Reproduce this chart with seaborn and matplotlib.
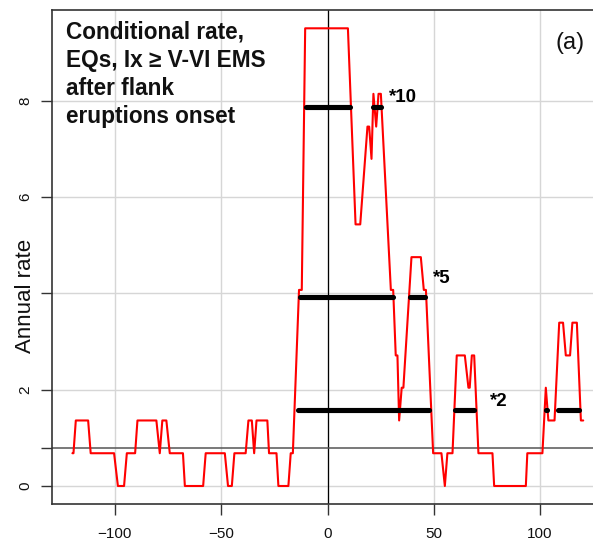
import matplotlib
matplotlib.use("Agg")
import matplotlib.pyplot as plt
import pandas as pd
import seaborn as sns

# Daily conditional rate curve (vertices of the step-like polyline)
days = [-120, -119.5, -118.4, -112.6, -111.4, -100.4, -98.6, -95.7, -94.4, -90.5,
        -89.4, -80.5, -78.9, -77.7, -75.8, -74.2, -68.0, -67.1, -58.5, -57.3,
        -48.3, -46.8, -45.0, -43.8, -38.5, -37.2, -35.6, -34.5, -33.4, -28.3,
        -27.5, -24.0, -23.1, -18.4, -17.3, -16.3, -13.4, -12.1, -10.5, 9.6,
        13.2, 15.4, 18.8, 19.6, 20.7, 21.6, 22.9, 24.0, 25.1, 29.8,
        30.9, 32.1, 32.9, 33.7, 34.9, 35.7, 39.5, 43.9, 45.3, 46.3,
        49.7, 53.6, 55.2, 56.4, 58.8, 60.8, 64.6, 66.3, 66.9, 67.9,
        69.0, 71.0, 77.6, 78.4, 93.3, 94.0, 101.1, 102.7, 103.9, 106.8,
        109.0, 110.8, 112.1, 114.1, 115.2, 117.3, 119.2, 120.3]
rate = [0.68, 0.68, 1.36, 1.36, 0.68, 0.68, 0.0, 0.0, 0.68, 0.68,
        1.36, 1.36, 0.68, 1.36, 1.36, 0.68, 0.68, 0.0, 0.0, 0.68,
        0.68, 0.0, 0.0, 0.68, 0.68, 1.36, 1.36, 0.68, 1.36, 1.36,
        0.68, 0.68, 0.0, 0.0, 0.68, 0.68, 4.07, 4.07, 9.5, 9.5,
        5.43, 5.43, 7.46, 7.46, 6.79, 8.14, 7.46, 8.14, 8.14, 4.07,
        4.07, 2.71, 2.71, 1.36, 2.04, 2.04, 4.75, 4.75, 4.07, 4.07,
        0.68, 0.68, 0.0, 0.68, 0.68, 2.71, 2.71, 2.04, 2.04, 2.71,
        2.71, 0.68, 0.68, 0.0, 0.0, 0.68, 0.68, 2.04, 1.36, 1.36,
        3.39, 3.39, 2.71, 2.71, 3.39, 3.39, 1.36, 1.36]

# Long-term mean rate and the multiples that mark the exceedance periods
mean_rate = 0.786
multiples = [10, 5, 2]
multiple_labels = ["*10", "*5", "*2"]
label_x = [29.0, 49.7, 76.5]
label_y = [8.06, 4.30, 1.76]

# Periods (start, end) during which the rate stays above each multiple
periods = {
    10: [(-10.0, 10.6), (21.5, 25.2)],
    5: [(-13.1, 30.7), (39.0, 46.0)],
    2: [(-14.1, 47.8), (60.2, 69.0), (102.7, 103.3), (108.5, 118.1)],
}

x_ticks = [-100, -50, 0, 50, 100]
x_tick_labels = ["\u2212100", "\u221250", "0", "50", "100"]
y_ticks = [0, 2, 4, 6, 8]
y_tick_labels = ["0", "2", "", "6", "8"]

title_text = "Conditional rate,\nEQs, Ix \u2265 V-VI EMS\nafter flank\neruptions onset"
panel_text = "(a)"
y_label = "Annual rate"

sns.set_theme(style="ticks")
plt.rcParams["font.family"] = ["Liberation Sans", "DejaVu Sans"]

W, H = 593, 540
fig = plt.figure(figsize=(W / 100, H / 100), dpi=100)
ax = fig.add_axes([52 / W, (H - 504.3) / H, 551 / W, 494.3 / H])
ax.set_xlim(-129.6, 129.6)
ax.set_ylim(-0.38, 9.88)

# light grid
for gx in x_ticks:
    ax.axvline(gx, color="#d6d6d6", lw=1.0, zorder=0)
for gy in y_ticks:
    ax.axhline(gy, color="#d6d6d6", lw=1.0, zorder=0)

# reference lines: eruption onset and mean rate
ax.axvline(0, color="black", lw=0.9, zorder=1)
ax.axhline(mean_rate, color="#555555", lw=1.1, zorder=1)

df = pd.DataFrame({"day": days, "rate": rate})
sns.lineplot(data=df, x="day", y="rate", color="#ff0000", lw=1.5,
             sort=False, estimator=None, ax=ax, zorder=2)

for m in multiples:
    level = m * mean_rate
    for lo, hi in periods[m]:
        ax.plot([lo, hi], [level, level], color="black", lw=3.7,
                solid_capstyle="round", zorder=3)

for txt, tx, ty in zip(multiple_labels, label_x, label_y):
    ax.text(tx, ty, txt, ha="left", va="center", fontsize=13.5,
            fontweight="bold", color="black")

fig.text(66 / W, 1 - 21 / H, title_text, ha="left", va="top",
         fontsize=16.3, fontweight="bold", linespacing=1.27, color="#111111")
fig.text(570 / W, 1 - 43 / H, panel_text, ha="center", va="center",
         fontsize=17, color="#111111")

ax.set_xticks(x_ticks)
ax.set_xticklabels(x_tick_labels)
ax.set_yticks(y_ticks + [mean_rate])
ax.set_yticklabels(y_tick_labels + [""], rotation=90, va="center")
ax.tick_params(axis="both", direction="out", length=8, width=1.0,
               color="#333333", labelsize=11, labelcolor="#111111")
ax.tick_params(axis="x", pad=8)
ax.tick_params(axis="y", pad=6)

ax.set_xlabel("")
ax.set_ylabel(y_label, fontsize=16, color="#111111")
ax.yaxis.set_label_coords(-(52 - 36) / 551, (504.3 - 295.5) / 494.3)

for side in ["left", "bottom", "top"]:
    ax.spines[side].set_visible(True)
    ax.spines[side].set_color("#333333")
    ax.spines[side].set_linewidth(1.2)
ax.spines["right"].set_visible(False)

fig.savefig("out.png", dpi=100)
